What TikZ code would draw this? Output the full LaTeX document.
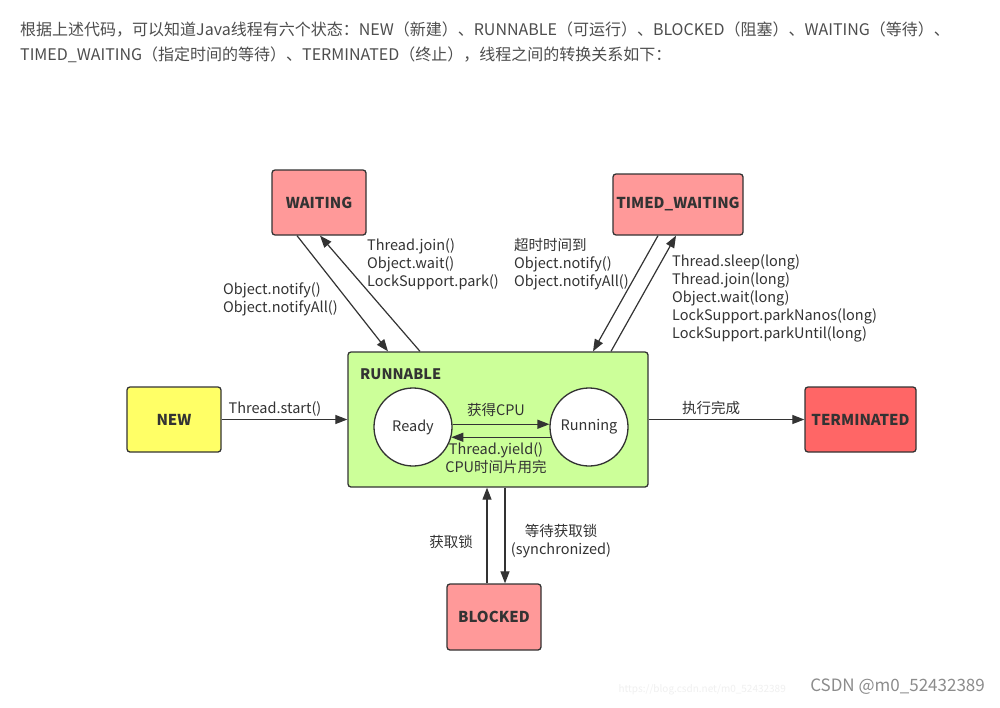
\documentclass[tikz,border=0pt]{standalone}
\usepackage{fontspec}
\setmainfont{Noto Sans CJK SC}
\usetikzlibrary{arrows.meta}
\definecolor{edge}{HTML}{333333}
\definecolor{ink}{HTML}{333333}
\definecolor{para}{HTML}{4D4D4D}
\definecolor{waitfill}{HTML}{FF9999}
\definecolor{newfill}{HTML}{FFFF66}
\definecolor{runfill}{HTML}{CCFF99}
\definecolor{termfill}{HTML}{FF6666}
\begin{document}
\begin{tikzpicture}[x=1pt,y=-1pt,
  state/.style={draw=edge, line width=1.3pt, rounded corners=3pt, inner sep=0pt,
    font=\fontsize{15}{17}\selectfont\bfseries, text=ink},
  sub/.style={circle, draw=edge, line width=1.3pt, fill=white, minimum size=78pt,
    inner sep=0pt, font=\fontsize{14.5}{16}\selectfont, text=ink},
  lbl/.style={inner sep=0pt, align=left, font=\fontsize{14.5}{18}\selectfont, text=ink},
  flow/.style={draw=edge, line width=1.2pt, -{Triangle[length=12pt,width=9pt]}},
]
\useasboundingbox (0,0) rectangle (1000,707);
\fill[white] (0,0) rectangle (1000,707);

% introductory paragraph
\node[anchor=west, inner sep=0pt, text=para, font=\fontsize{16}{18}\selectfont] (p1) at (20,30)
  {根据上述代码，可以知道Java线程有六个状态：NEW（新建）、RUNNABLE（可运行）、BLOCKED（阻塞）、WAITING（等待）、};
\node[anchor=west, inner sep=0pt, text=para, font=\fontsize{16}{18}\selectfont] (p2) at (20,55)
  {TIMED\_WAITING（指定时间的等待）、TERMINATED（终止），线程之间的转换关系如下：};

% states
\node[state, fill=waitfill, minimum width=94pt, minimum height=65pt] (wait) at (319,202.5) {WAITING};
\node[state, fill=waitfill, minimum width=130pt, minimum height=61pt] (tw) at (678,204.5) {TIMED\_WAITING};
\node[state, fill=newfill, minimum width=94pt, minimum height=65pt] (new) at (174,419.5) {NEW};
\node[state, fill=runfill, minimum width=300pt, minimum height=135pt] (run) at (498,419.5) {};
\node[anchor=west, inner sep=0pt, text=ink, font=\fontsize{14.5}{17}\selectfont\bfseries] (runlbl) at (360,374) {RUNNABLE};
\node[state, fill=termfill, minimum width=111pt, minimum height=65pt] (term) at (860.5,419.5) {TERMINATED};
\node[state, fill=waitfill, minimum width=94pt, minimum height=66pt] (blk) at (494,617) {BLOCKED};

% substates inside RUNNABLE
\node[sub] (ready) at (413,427) {Ready};
\node[sub] (running) at (589,427) {Running};

% transitions
\draw[flow] (new) -- (run);
\draw[flow] (run.east |- term) -- (term);
\draw[flow] (ready.4) -- (running.176);
\draw[flow] (running.195) -- (ready.-15);

\draw[flow] ([xshift=-22pt]wait.south) -- ([xshift=-110pt]run.north);
\draw[flow] ([xshift=-78pt]run.north) -- ([xshift=1pt]wait.south);
\draw[flow] ([xshift=-20pt]tw.south) -- ([xshift=95pt]run.north);
\draw[flow] ([xshift=113pt]run.north) -- ([xshift=-2pt]tw.south);

\draw[flow] ([xshift=-7pt]blk.north) -- ([xshift=-7pt]blk.north |- run.south);
\draw[flow] ([xshift=11pt]blk.north |- run.south) -- ([xshift=11pt]blk.north);

% transition labels
\node[lbl, anchor=south] (lstart) at (275,417) {Thread.start()};
\node[lbl, anchor=south] (lend) at (711,415) {执行完成};
\node[lbl, anchor=south] (lcpu) at (496,417) {获得CPU};
\node[lbl, anchor=north, align=center] (lyield) at (496,442) {Thread.yield()\\CPU时间片用完};

\node[lbl, anchor=north west] (lnotify) at (223,282) {Object.notify()\\Object.notifyAll()};
\node[lbl, anchor=north west] (ljoin) at (367,238) {Thread.join()\\Object.wait()\\LockSupport.park()};
\node[lbl, anchor=north west] (ltimeout) at (514,238) {超时时间到\\Object.notify()\\Object.notifyAll()};
\node[lbl, anchor=north west] (lsleep) at (672,254) {Thread.sleep(long)\\Thread.join(long)\\Object.wait(long)\\LockSupport.parkNanos(long)\\LockSupport.parkUntil(long)};

\node[lbl] (lacq) at (451,542) {获取锁};
\node[lbl, align=center] (lwaitlock) at (561,541) {等待获取锁\\(synchronized)};

% watermark
\node[anchor=east, inner sep=0pt, text=black!6, font=\fontsize{10}{12}\selectfont] (url) at (786,690) {https://blog.csdn.net/m0\_52432389};
\node[anchor=east, inner sep=0pt, text=black!45, font=\fontsize{17}{18}\selectfont] (mark) at (985,687) {CSDN @m0\_52432389};
\end{tikzpicture}
\end{document}
